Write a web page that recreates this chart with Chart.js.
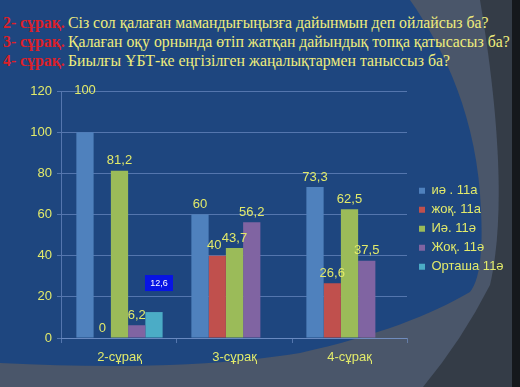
<!DOCTYPE html>
<html>
<head>
<meta charset="utf-8">
<script src="https://cdn.jsdelivr.net/npm/chart.js@4.4.1/dist/chart.umd.min.js"></script>
<style>
  html, body { margin: 0; padding: 0; }
  body { width: 520px; height: 387px; position: relative; overflow: hidden; background: #343c47; }
  #bg { position: absolute; left: 0; top: 0; }
  #chart { position: absolute; left: 0; top: 0; }
  .title { position: absolute; left: 0; top: 13px; font-family: "Liberation Serif", serif;
           font-size: 15.8px; line-height: 19px; white-space: nowrap; }
  .title div { position: relative; height: 19px; }
  .title .q { position: absolute; left: 3px; color: #dc2029; font-weight: bold; }
  .title .t { position: absolute; left: 68px; color: #efed7c; }
</style>
</head>
<body>
<svg id="bg" width="520" height="387">
  <path d="M0,0 H480 C500,120 505,220 490,285 Q462,340 423,387 H0 Z" fill="#4a566a"/>
  <path d="M0,0 L410,0 C445,50 478,120 481,210 C483,250 480,280 470,292 C430,315 380,335 300,353 C220,366 120,369 0,363 Z" fill="#1e467f"/>
  <rect x="512" y="0" width="8" height="387" fill="#15181c"/>
</svg>
<div class="title">
  <div><span class="q">2- сұрақ.</span><span class="t">Сіз сол қалаған мамандығыңызға дайынмын деп ойлайсыз ба?</span></div>
  <div><span class="q">3- сұрақ.</span><span class="t">Қалаған оқу орнында өтіп жатқан дайындық топқа қатысасыз ба?</span></div>
  <div><span class="q">4- сұрақ.</span><span class="t">Биылғы ҰБТ-ке еңгізілген жаңалықтармен таныссыз ба?</span></div>
</div>
<canvas id="chart" width="520" height="387"></canvas>
<script>
// categories and series
const categories = ['2-сұрақ', '3-сұрақ', '4-сұрақ'];
const seriesNames = ['иә . 11а', 'жоқ. 11а', 'Иә. 11ә', 'Жоқ. 11ә', 'Орташа 11ә'];
const yesA = [100, 60, 73.3];
const noA = [0, 40, 26.6];
const yesB = [81.2, 43.7, 62.5];
const noB = [6.2, 56.2, 37.5];
const avgB = [12.6, null, null];
const yTicks = [0, 20, 40, 60, 80, 100, 120];

const colors = ['#4f81bd', '#c0504d', '#9bbb59', '#8064a2', '#4bacc6'];
const yellow = '#e2ea6a';
const gridColor = 'rgba(120, 150, 205, 0.6)';
const sans = '"Liberation Sans", Arial, sans-serif';

// value labels drawn above each bar
const valueLabels = {
  id: 'valueLabels',
  afterDatasetsDraw(chart, args, opts) {
    const c = chart.ctx;
    c.save();
    c.textAlign = 'center';
    c.textBaseline = 'middle';
    chart.data.datasets.forEach((ds, di) => {
      chart.getDatasetMeta(di).data.forEach((bar, i) => {
        const v = ds.data[i];
        if (v === null || v === undefined) return;
        const nudge = opts.nudges[di + '-' + i] || {};
        const x = bar.x + (nudge.dx || 0);
        const y = bar.y + (nudge.dy !== undefined ? nudge.dy : -10);
        const txt = String(v).replace('.', ',');
        if (nudge.boxed) {
          c.font = '9px ' + sans;
          c.fillStyle = '#0814e4';
          c.fillRect(x - 14, y - 8, 28, 16);
          c.fillStyle = '#ffffff';
          c.fillText(txt, x, y);
        } else {
          c.font = '13px ' + sans;
          c.fillStyle = yellow;
          c.fillText(txt, x, y);
        }
      });
    });
    c.restore();
  }
};

// nudge the legend a little right and up, like the original slide
const legendShift = {
  id: 'legendShift',
  afterLayout(chart) {
    const lg = chart.legend;
    lg.left += 6; lg.right += 6;
    lg.top -= 3; lg.bottom -= 3;
  }
};

new Chart(document.getElementById('chart').getContext('2d'), {
  type: 'bar',
  data: {
    labels: categories,
    datasets: [yesA, noA, yesB, noB, avgB].map((d, i) => ({
      label: seriesNames[i],
      data: d,
      backgroundColor: colors[i],
      borderWidth: 0,
      categoryPercentage: 0.75,
      barPercentage: 1
    }))
  },
  options: {
    responsive: false,
    animation: false,
    layout: { padding: { top: 91, left: 25.3, bottom: 14.4, right: 12.4 } },
    scales: {
      x: {
        grid: { drawOnChartArea: false, drawTicks: true, tickLength: 5, color: gridColor },
        border: { color: gridColor },
        ticks: { color: yellow, padding: 7, font: { size: 13, family: sans } }
      },
      y: {
        min: 0,
        max: 120,
        afterBuildTicks: (axis) => { axis.ticks = yTicks.map(v => ({ value: v })); },
        grid: { color: gridColor, tickLength: 5 },
        border: { color: gridColor },
        ticks: { color: yellow, padding: 5, font: { size: 13, family: sans } }
      }
    },
    plugins: {
      legend: {
        position: 'right',
        labels: {
          color: yellow,
          boxWidth: 6,
          boxHeight: 6,
          padding: 6,
          font: { size: 13, family: sans }
        }
      },
      tooltip: { enabled: false },
      valueLabels: {
        nudges: {
          '0-0': { dy: -42 },
          '1-1': { dx: -3 },
          '4-0': { dx: 5, dy: -29, boxed: true }
        }
      }
    }
  },
  plugins: [valueLabels, legendShift]
});
</script>
</body>
</html>
